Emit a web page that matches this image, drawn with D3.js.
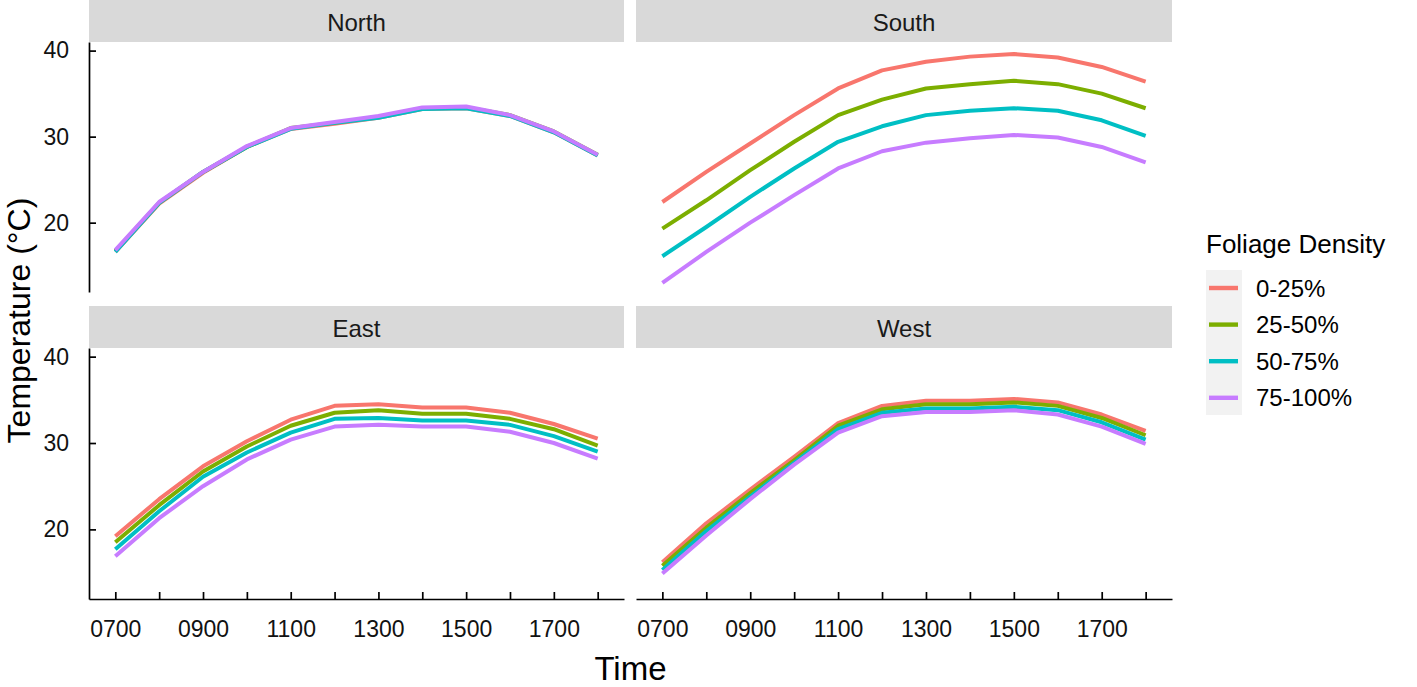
<!DOCTYPE html>
<html>
<head>
<meta charset="utf-8">
<script src="https://cdn.jsdelivr.net/npm/d3@7"></script>
<style>
  body { margin: 0; background: #fff; }
  svg { display: block; font-family: "Liberation Sans", Arial, sans-serif; }
</style>
</head>
<body>
<div id="chart"></div>
<script>
// values (deg C)
var times = ["0700", "0800", "0900", "1000", "1100", "1200", "1300", "1400", "1500", "1600", "1700", "1800"];
var timeLabels = ["0700", "0900", "1100", "1300", "1500", "1700"];
var densities = ["0-25%", "25-50%", "50-75%", "75-100%"];
var yTicks = [20, 30, 40];

// one row per foliage density, in the order of densities
var north = [
	[16.6, 22.2, 25.8, 28.8, 30.9, 31.5, 32.2, 33.2, 33.3, 32.4, 30.5, 27.8],
	[16.7, 22.3, 25.9, 28.8, 31.0, 31.6, 32.3, 33.3, 33.4, 32.5, 30.6, 27.9],
	[16.6, 22.3, 25.9, 28.8, 30.9, 31.6, 32.2, 33.2, 33.3, 32.4, 30.5, 27.8],
	[16.8, 22.4, 25.9, 28.9, 31.0, 31.7, 32.4, 33.4, 33.5, 32.5, 30.6, 27.9]
];
var south = [
	[22.4, 25.9, 29.2, 32.5, 35.6, 37.7, 38.7, 39.3, 39.6, 39.2, 38.1, 36.4],
	[19.3, 22.6, 26.1, 29.4, 32.5, 34.3, 35.6, 36.1, 36.5, 36.1, 35.0, 33.3],
	[16.1, 19.5, 23.0, 26.3, 29.4, 31.2, 32.5, 33.0, 33.3, 33.0, 31.9, 30.1],
	[13.0, 16.6, 20.0, 23.2, 26.3, 28.3, 29.3, 29.8, 30.2, 29.9, 28.8, 27.0]
];
var east = [
	[19.2, 23.5, 27.3, 30.2, 32.7, 34.3, 34.5, 34.1, 34.1, 33.5, 32.2, 30.5],
	[18.5, 22.8, 26.7, 29.6, 32.0, 33.5, 33.8, 33.4, 33.4, 32.8, 31.6, 29.7],
	[17.7, 22.1, 26.1, 28.9, 31.2, 32.8, 32.9, 32.6, 32.6, 32.1, 30.8, 29.0],
	[16.9, 21.3, 25.0, 28.1, 30.4, 31.9, 32.1, 31.9, 31.9, 31.3, 30.0, 28.2]
];
var west = [
	[16.2, 20.7, 24.6, 28.4, 32.3, 34.3, 34.9, 34.9, 35.1, 34.7, 33.3, 31.4],
	[15.8, 20.2, 24.2, 28.0, 32.0, 33.9, 34.5, 34.5, 34.7, 34.3, 32.9, 30.9],
	[15.3, 19.8, 23.8, 27.7, 31.6, 33.5, 34.0, 34.0, 34.2, 33.8, 32.4, 30.4],
	[14.9, 19.3, 23.5, 27.5, 31.2, 33.1, 33.6, 33.6, 33.8, 33.3, 31.9, 29.9]
];
var aspects = ["North", "South", "East", "West"];
var aspectData = [north, south, east, west];

var colors = ["#F8766D", "#7CAE00", "#00BFC4", "#C77CFF"];

var W = 1417, H = 687;
var svg = d3.select("#chart").append("svg").attr("width", W).attr("height", H);

// facet geometry
var cols = [[89, 624], [636, 1172]];
var rows = [{strip: 0, top: 42, bottom: 292}, {strip: 306, top: 348, bottom: 599}];

var color = d3.scaleOrdinal().domain(densities).range(colors);
var line = function(x, y) {
	return d3.line().x(function(d, i) { return x(times[i]); }).y(function(d) { return y(d); });
};

aspects.forEach(function(name, k) {
	var c = cols[k % 2], r = rows[Math.floor(k / 2)];
	var x = d3.scalePoint().domain(times).range(c).padding(0.6);
	var y = d3.scaleLinear().domain([11.94, 41.0]).range([r.bottom, r.top]);
	var g = svg.append("g");

	// strip
	g.append("rect")
		.attr("x", c[0]).attr("y", r.strip)
		.attr("width", c[1] - c[0]).attr("height", r.top - r.strip)
		.attr("fill", "#D9D9D9");
	g.append("text")
		.attr("x", (c[0] + c[1]) / 2).attr("y", (r.strip + r.top) / 2 + 1)
		.attr("text-anchor", "middle").attr("dominant-baseline", "central")
		.attr("font-size", 24).attr("fill", "#1A1A1A")
		.text(name);

	// series lines, drawn in factor order so 75-100% ends on top
	g.selectAll("path.series").data(aspectData[k]).enter().append("path")
		.attr("class", "series")
		.attr("d", line(x, y))
		.attr("fill", "none")
		.attr("stroke", function(d, i) { return color(densities[i]); })
		.attr("stroke-width", 4)
		.attr("stroke-linejoin", "round");

	// axes: y only on left column, x only on bottom row
	if (k % 2 === 0) {
		var ya = g.append("g").attr("transform", "translate(" + c[0] + ",0)")
			.call(d3.axisLeft(y).tickValues(yTicks).tickSizeInner(-7).tickSizeOuter(0).tickPadding(20));
		styleAxis(ya);
	}
	if (k >= 2) {
		var xa = g.append("g").attr("transform", "translate(0," + r.bottom + ")")
			.call(d3.axisBottom(x).tickSizeInner(-7).tickSizeOuter(0).tickPadding(22)
				.tickFormat(function(t) { return timeLabels.indexOf(t) >= 0 ? t : ""; }));
		styleAxis(xa);
	}
});

function styleAxis(a) {
	a.select(".domain").attr("stroke", "#000").attr("stroke-width", 1.7);
	a.selectAll(".tick line").attr("stroke", "#000").attr("stroke-width", 1.7);
	a.selectAll(".tick text").attr("font-size", 23).attr("fill", "#111")
		.attr("font-family", "Liberation Sans, Arial, sans-serif");
}

// axis titles
svg.append("text")
	.attr("x", (cols[0][0] + cols[1][1]) / 2).attr("y", 680)
	.attr("text-anchor", "middle").attr("font-size", 33).attr("fill", "#000")
	.text("Time");
svg.append("text")
	.attr("transform", "translate(30," + (rows[0].top + rows[1].bottom) / 2 + ") rotate(-90)")
	.attr("text-anchor", "middle").attr("font-size", 32).attr("fill", "#000")
	.text("Temperature (°C)");

// legend
var lg = svg.append("g");
lg.append("text").attr("x", 1206).attr("y", 253)
	.attr("font-size", 26).attr("fill", "#000").text("Foliage Density");
lg.append("rect").attr("x", 1206).attr("y", 270).attr("width", 36).attr("height", 145)
	.attr("fill", "#F2F2F2");
var items = lg.selectAll("g.item").data(densities).enter().append("g")
	.attr("class", "item")
	.attr("transform", function(d, i) { return "translate(0," + (288 + i * 36.6) + ")"; });
items.append("line").attr("x1", 1209).attr("x2", 1238)
	.attr("stroke", function(d) { return color(d); }).attr("stroke-width", 4.4);
items.append("text").attr("x", 1256).attr("dominant-baseline", "central")
	.attr("font-size", 24).attr("fill", "#000")
	.text(function(d) { return d; });
</script>
</body>
</html>
